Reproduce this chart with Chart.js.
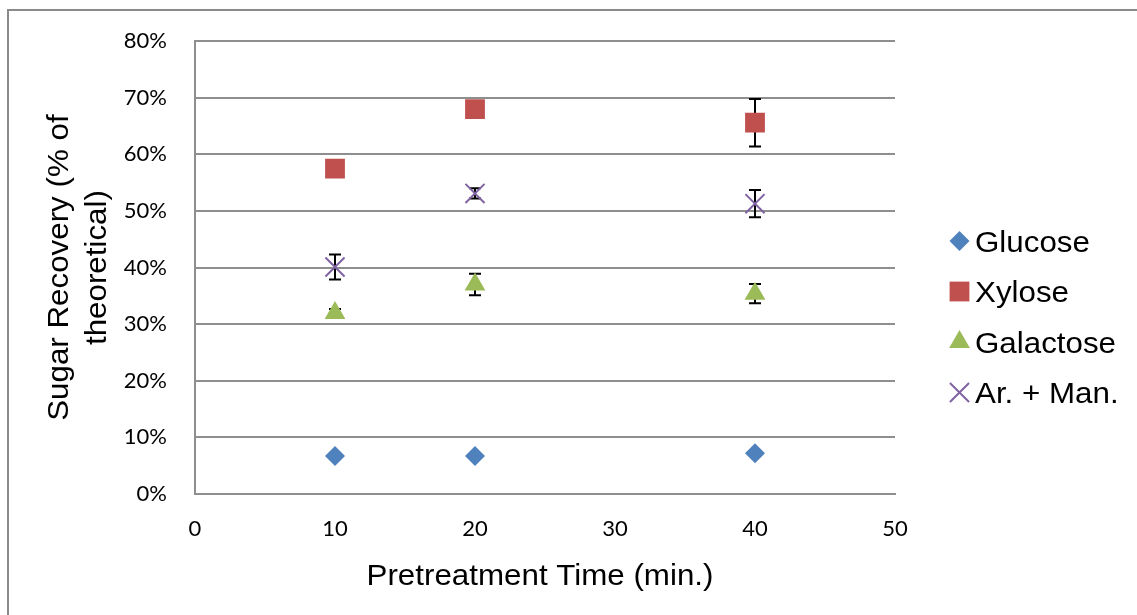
<!DOCTYPE html>
<html>
<head>
<meta charset="utf-8">
<script src="https://cdn.jsdelivr.net/npm/chart.js@4.4.1/dist/chart.umd.min.js"></script>
<style>
  html, body { margin: 0; padding: 0; background: #fff; }
  #wrap { width: 1137px; height: 615px; }
</style>
</head>
<body>
<div id="wrap"><canvas id="sugarChart" width="1137" height="615"></canvas></div>
<script>
"use strict";

// pretreatment time (min.)
const times = [10, 20, 40];

// sugar recovery, % of theoretical, with +/- error
const glucose = [6.7, 6.7, 7.2];
const glucoseErr = [0.3, 0.3, 0.3];
const xylose = [57.5, 68.0, 65.6];
const xyloseErr = [0.6, 0.6, 4.2];
const galactose = [32.0, 37.0, 35.4];
const galactoseErr = [0.7, 1.9, 1.7];
const arMan = [40.1, 53.1, 51.3];
const arManErr = [2.2, 0.9, 2.4];

const seriesNames = ["Glucose", "Xylose", "Galactose", "Ar. + Man."];
const xTitle = "Pretreatment Time (min.)";
const yTitle = ["Sugar Recovery (% of", "theoretical)"];

const TITLE_FONT = '29px "Liberation Sans", Arial, sans-serif';
const STRETCH = 1.08;

function pts(ys) {
  return times.map((t, i) => ({ x: t, y: ys[i] }));
}

const errors = [glucoseErr, xyloseErr, galactoseErr, arManErr];

const errorBars = {
  id: "errorBars",
  beforeDatasetsDraw(chart) {
    const { ctx, scales: { x, y } } = chart;
    ctx.save();
    ctx.strokeStyle = "#000";
    ctx.lineWidth = 2;
    chart.data.datasets.forEach((ds, di) => {
      ds.data.forEach((p, i) => {
        const e = errors[di][i];
        const px = Math.round(x.getPixelForValue(p.x));
        const top = y.getPixelForValue(p.y + e);
        const bot = y.getPixelForValue(p.y - e);
        ctx.beginPath();
        ctx.moveTo(px, top);
        ctx.lineTo(px, bot);
        ctx.moveTo(px - 6, top);
        ctx.lineTo(px + 6, top);
        ctx.moveTo(px - 6, bot);
        ctx.lineTo(px + 6, bot);
        ctx.stroke();
      });
    });
    ctx.restore();
  }
};

function stretchedText(ctx, text, x, y, rot) {
  ctx.save();
  ctx.translate(x, y);
  if (rot) ctx.rotate(rot);
  ctx.scale(STRETCH, 1);
  ctx.fillText(text, 0, 0);
  ctx.restore();
}

const decorations = {
  id: "decorations",
  beforeDraw(chart) {
    const ctx = chart.ctx;
    ctx.save();
    ctx.strokeStyle = "#8a8a8a";
    ctx.lineWidth = 2;
    ctx.beginPath();
    ctx.moveTo(8, 700);
    ctx.lineTo(8, 10);
    ctx.lineTo(1200, 10);
    ctx.stroke();
    ctx.restore();
  },
  afterDraw(chart) {
    const ctx = chart.ctx;
    const area = chart.chartArea;
    ctx.save();
    ctx.fillStyle = "#000";
    ctx.font = TITLE_FONT;
    ctx.textBaseline = "alphabetic";
    ctx.textAlign = "center";
    stretchedText(ctx, xTitle, (area.left + area.right) / 2 - 5, 585);
    const midY = (area.top + area.bottom) / 2;
    stretchedText(ctx, yTitle[0], 68, midY, -Math.PI / 2);
    stretchedText(ctx, yTitle[1], 106, midY, -Math.PI / 2);

    // legend
    ctx.textAlign = "left";
    chart.data.datasets.forEach((ds, i) => {
      const cy = 241 + i * 50.5;
      const style = {
        pointStyle: ds.pointStyle,
        radius: ds.pointRadius,
        rotation: 0,
        borderWidth: ds.pointBorderWidth
      };
      ctx.fillStyle = ds.pointBackgroundColor;
      ctx.strokeStyle = ds.pointBorderColor;
      ctx.lineWidth = ds.pointBorderWidth;
      Chart.helpers.drawPoint(ctx, style, 959.5, cy);
      ctx.fillStyle = "#000";
      stretchedText(ctx, ds.label, 975, cy + 10.5);
    });
    ctx.restore();
  }
};

const colors = ["#4f81bd", "#c0504d", "#9bbb59", "#8064a2"];
const shapes = ["rectRot", "rect", "triangle", "crossRot"];
const radii = [10, 14, 12, 13.5];
const values = [glucose, xylose, galactose, arMan];

const datasets = values.map((v, i) => ({
  label: seriesNames[i],
  data: pts(v),
  showLine: false,
  pointStyle: shapes[i],
  pointRadius: radii[i],
  pointHoverRadius: radii[i],
  pointBackgroundColor: colors[i],
  pointBorderColor: colors[i],
  pointBorderWidth: i === 3 ? 2 : 0
}));

const gridColor = "#8e8e8e";

new Chart(document.getElementById("sugarChart"), {
  type: "scatter",
  data: { datasets },
  options: {
    responsive: false,
    animation: false,
    devicePixelRatio: 1,
    layout: { padding: { left: 0, right: 242, top: 39, bottom: 0 } },
    plugins: {
      legend: { display: false },
      tooltip: { enabled: false }
    },
    scales: {
      x: {
        type: "linear",
        min: 0,
        max: 50,
        ticks: {
          stepSize: 10,
          padding: 22,
          color: "#000",
          font: { family: "Lato", size: 22 }
        },
        grid: { display: false, drawTicks: false },
        border: { display: true, color: gridColor, width: 2 },
        afterFit(scale) { scale.height = 121; }
      },
      y: {
        type: "linear",
        min: 0,
        max: 80,
        ticks: {
          stepSize: 10,
          padding: 28,
          color: "#000",
          font: { family: "Lato", size: 22 },
          callback: v => v + "%"
        },
        grid: { color: gridColor, lineWidth: 2, drawTicks: false },
        border: { display: true, color: gridColor, width: 2 },
        afterFit(scale) { scale.width = 195; }
      }
    }
  },
  plugins: [errorBars, decorations]
});
</script>
</body>
</html>
